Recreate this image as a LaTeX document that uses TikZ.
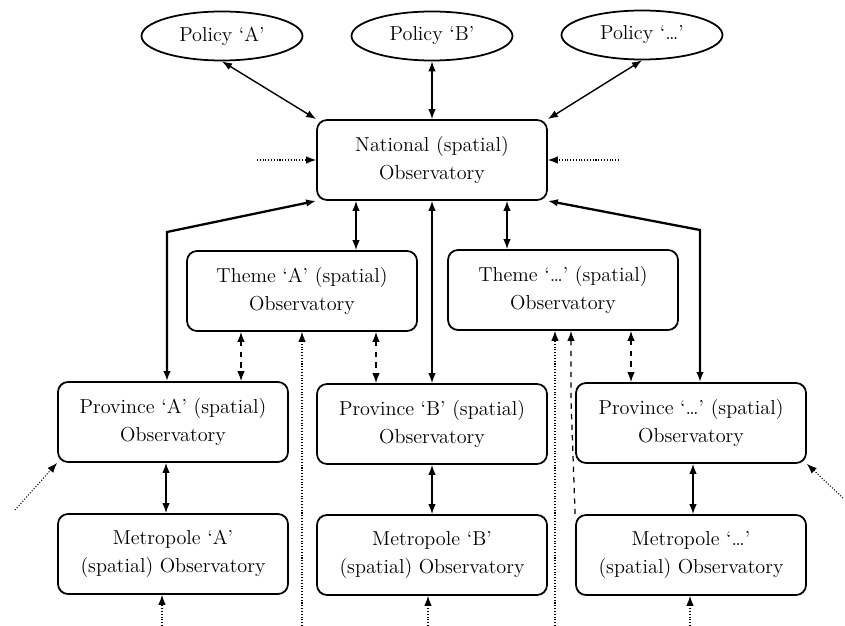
\documentclass[tikz,border=0pt]{standalone}
\usepackage{tikz}
\usetikzlibrary{arrows.meta}
\usetikzlibrary{shapes}

\newcommand{\obsfont}{\fontsize{11.5}{16}\selectfont}

\tikzset{
  >={Latex[length=2mm,width=1.5mm]},
  obsbox/.style={draw, line width=1pt, rounded corners=2mm, align=center,
    minimum width=4.6cm, minimum height=1.6cm, font=\obsfont},
  policy/.style={draw, line width=1pt, ellipse, minimum width=3.22cm,
    minimum height=0.98cm, inner sep=1pt, font=\obsfont},
  link/.style={<->, line width=0.8pt},
  trunk/.style={<->, line width=1.3pt},
  themelink/.style={<->, line width=0.8pt, dashed},
  feed/.style={->, line width=0.6pt, densely dotted}
}

\begin{document}
\begin{tikzpicture}[x=0.2mm, y=-0.2mm]
        \useasboundingbox (0,0) rectangle (845,626);

        % Policies on top
        \node[policy] (polA) at (222,36) {Policy `A'};
        \node[policy] (polB) at (432,36) {Policy `B'};
        \node[policy] (polX) at (642,35) {Policy `\ldots'};

        % National and theme observatories
        \node[obsbox] (nat) at (432,160) {National (spatial)\\Observatory};
        \node[obsbox] (themeA) at (302,291) {Theme `A' (spatial)\\Observatory};
        \node[obsbox] (themeX) at (563,290) {Theme `\ldots' (spatial)\\Observatory};

        % Provinces and metropoles
        \node[obsbox] (provA) at (173,422) {Province `A' (spatial)\\Observatory};
        \node[obsbox] (provB) at (432,424) {Province `B' (spatial)\\Observatory};
        \node[obsbox] (provX) at (691,423) {Province `\ldots' (spatial)\\Observatory};
        \node[obsbox] (metroA) at (173,554) {Metropole `A'\\(spatial) Observatory};
        \node[obsbox] (metroB) at (432,555) {Metropole `B'\\(spatial) Observatory};
        \node[obsbox] (metroX) at (691,555) {Metropole `\ldots'\\(spatial) Observatory};

        % Loose ends and bends
        \coordinate (inNW) at (257,160);
        \coordinate (inNE) at (619,160);
        \coordinate (inA) at (15,510);
        \coordinate (inX) at (843,498);
        \coordinate (bendA) at (167,232);
        \coordinate (bendX) at (700,230);
        \coordinate (kinkX) at (571,400);
        \coordinate (cutA) at (302,626);
        \coordinate (cutX) at (555,626);
        \coordinate (botA) at (162,626);
        \coordinate (botB) at (428,626);
        \coordinate (botX) at (690,626);

        % Policies <-> national
        \draw[link] (polA.south) -- (nat.north west);
        \draw[link] (polB) -- (nat);
        \draw[link] (polX.south) -- (nat.north east);
        \draw[feed] (inNW) -- (nat.west);
        \draw[feed] (inNE) -- (nat.east);

        % National <-> themes and provinces
        \draw[link] (nat.south -| 356,0) -- (themeA.north -| 356,0);
        \draw[link] (nat.south -| 507,0) -- (themeX.north -| 507,0);
        \draw[link] (nat) -- (provB);
        \draw[trunk] (provA.north -| bendA) -- (bendA) -- (nat.south west);
        \draw[trunk] (provX.north -| bendX) -- (bendX) -- (nat.south east);

        % Themes <-> provinces
        \draw[themelink] (themeA.south -| 241,0) -- (provA.north -| 241,0);
        \draw[themelink] (themeA.south -| 376,0) -- (provB.north -| 376,0);
        \draw[themelink] (themeX.south -| 631,0) -- (provX.north -| 631,0);
        \draw[feed] (cutA) -- (themeA.south -| cutA);
        \draw[feed] (cutX) -- (themeX.south -| cutX);
        \draw[->, line width=0.7pt, dashed] (metroX.north west) -- (kinkX) -- (themeX.south -| kinkX);

        % Provinces <-> metropoles
        \draw[link] (provA.south -| 166,0) -- (metroA.north -| 166,0);
        \draw[link] (provB) -- (metroB);
        \draw[link] (provX.south -| 693,0) -- (metroX.north -| 693,0);
        \draw[feed] (inA) -- (provA.south west);
        \draw[feed] (inX) -- (provX.south east);
        \draw[feed] (botA) -- (metroA.south -| botA);
        \draw[feed] (botB) -- (metroB.south -| botB);
        \draw[feed] (botX) -- (metroX.south -| botX);
    \end{tikzpicture}
\end{document}
